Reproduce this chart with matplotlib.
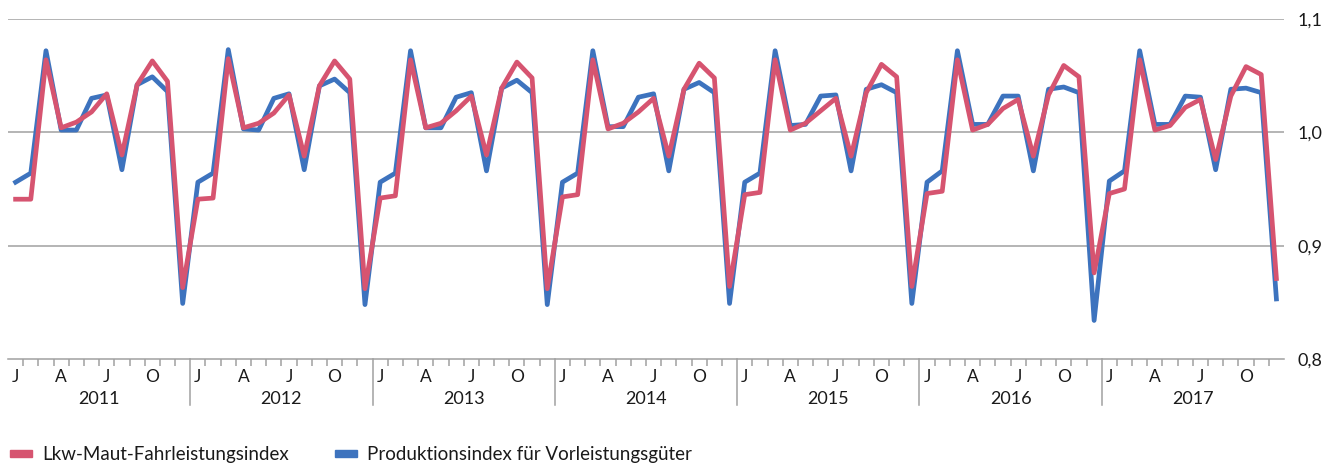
import numpy as np
import matplotlib.pyplot as plt
from matplotlib.patches import Rectangle
from matplotlib.lines import Line2D
from matplotlib.transforms import blended_transform_factory

plt.rcParams['font.family'] = ['Lato', 'DejaVu Sans']

# data
years = ['2011', '2012', '2013', '2014', '2015', '2016', '2017']
month_labels = ['J', '', '', 'A', '', '', 'J', '', '', 'O', '', '']
y_ticks = [0.8, 0.9, 1.0, 1.1]
y_ticklabels = ['0,8', '0,9', '1,0', '1,1']

# Lkw-Maut-Fahrleistungsindex
maut = [
    0.941, 0.941, 1.064, 1.004, 1.009, 1.018, 1.034, 0.980, 1.042, 1.063, 1.045, 0.863,
    0.941, 0.942, 1.065, 1.004, 1.008, 1.017, 1.033, 0.979, 1.041, 1.063, 1.047, 0.862,
    0.942, 0.944, 1.064, 1.004, 1.008, 1.019, 1.032, 0.980, 1.039, 1.062, 1.048, 0.862,
    0.943, 0.945, 1.064, 1.003, 1.008, 1.018, 1.030, 0.979, 1.038, 1.061, 1.048, 0.864,
    0.945, 0.947, 1.064, 1.002, 1.008, 1.019, 1.030, 0.979, 1.035, 1.060, 1.049, 0.864,
    0.946, 0.948, 1.064, 1.002, 1.007, 1.021, 1.029, 0.979, 1.033, 1.059, 1.049, 0.876,
    0.946, 0.950, 1.064, 1.002, 1.006, 1.022, 1.029, 0.976, 1.032, 1.058, 1.051, 0.871,
]
# Produktionsindex fuer Vorleistungsgueter
prod = [
    0.956, 0.964, 1.072, 1.002, 1.002, 1.030, 1.033, 0.967, 1.042, 1.049, 1.036, 0.849,
    0.956, 0.964, 1.073, 1.003, 1.002, 1.030, 1.034, 0.967, 1.041, 1.047, 1.035, 0.848,
    0.956, 0.964, 1.072, 1.004, 1.004, 1.031, 1.035, 0.966, 1.039, 1.046, 1.035, 0.848,
    0.956, 0.964, 1.072, 1.005, 1.005, 1.031, 1.034, 0.966, 1.038, 1.044, 1.035, 0.849,
    0.956, 0.964, 1.072, 1.006, 1.007, 1.032, 1.033, 0.966, 1.038, 1.042, 1.035, 0.849,
    0.956, 0.966, 1.072, 1.007, 1.007, 1.032, 1.032, 0.966, 1.038, 1.040, 1.035, 0.834,
    0.957, 0.966, 1.072, 1.007, 1.007, 1.032, 1.031, 0.967, 1.038, 1.039, 1.035, 0.853,
]

RED = '#D65470'
BLUE = '#3D73BE'
GRID = '#A0A0A0'
TXT = '#1a1a1a'
W, H = 1329, 465

fig = plt.figure(figsize=(W / 100, H / 100), dpi=100)
ax = fig.add_axes([8 / W, 1 - 359 / H, 1276 / W, 340 / H])

x = np.arange(len(maut))
ax.plot(x, prod, color=BLUE, lw=3.4, zorder=3)
ax.plot(x, maut, color=RED, lw=3.4, zorder=4)

ax.set_xlim(-0.5, len(maut) - 0.5)
ax.set_ylim(0.8, 1.1)

# y axis on the right, gridlines only
ax.yaxis.tick_right()
ax.set_yticks(y_ticks)
ax.set_yticklabels(y_ticklabels, fontsize=13, color=TXT)
ax.tick_params(axis='y', length=0, pad=10)
for v in y_ticks[1:]:
    ax.axhline(v, color=GRID, lw=1.1, zorder=1)
for s in ['top', 'left', 'right']:
    ax.spines[s].set_visible(False)
ax.spines['bottom'].set_color(GRID)
ax.spines['bottom'].set_linewidth(1.1)

# month ticks between categories, long lines between years
n_years = len(years)
bounds = np.arange(1, 12 * n_years) - 0.5
small = [b for b in bounds if (b + 0.5) % 12 != 0]
ax.set_xticks(small)
ax.set_xticklabels([])
ax.tick_params(axis='x', length=5, width=1.1, color=GRID, direction='out')

trans = blended_transform_factory(ax.transData, ax.transAxes)
for i in range(1, n_years):
    ax.add_line(Line2D([12 * i - 0.5, 12 * i - 0.5], [0, -46 / 340], transform=trans,
                       color=GRID, lw=1.1, clip_on=False))

for yi, yr in enumerate(years):
    for mi, lab in enumerate(month_labels):
        if lab:
            ax.text(12 * yi + mi, -18 / 340, lab, transform=trans, ha='center',
                    va='center', fontsize=12.5, color=TXT)
    ax.text(12 * yi + 5.5, -40 / 340, yr, transform=trans, ha='center',
            va='center', fontsize=13, color=TXT)

# legend at the bottom
legend_items = [('Lkw-Maut-Fahrleistungsindex', RED, 10),
                ('Produktionsindex für Vorleistungsgüter', BLUE, 335)]
for label, col, px in legend_items:
    fig.add_artist(Rectangle((px / W, 1 - 457 / H), 22 / W, 7 / H,
                             transform=fig.transFigure, color=col))
    fig.text((px + 32) / W, 1 - 454 / H, label, va='center', fontsize=13.5,
             color=TXT)

fig.savefig('out.png', dpi=100)
